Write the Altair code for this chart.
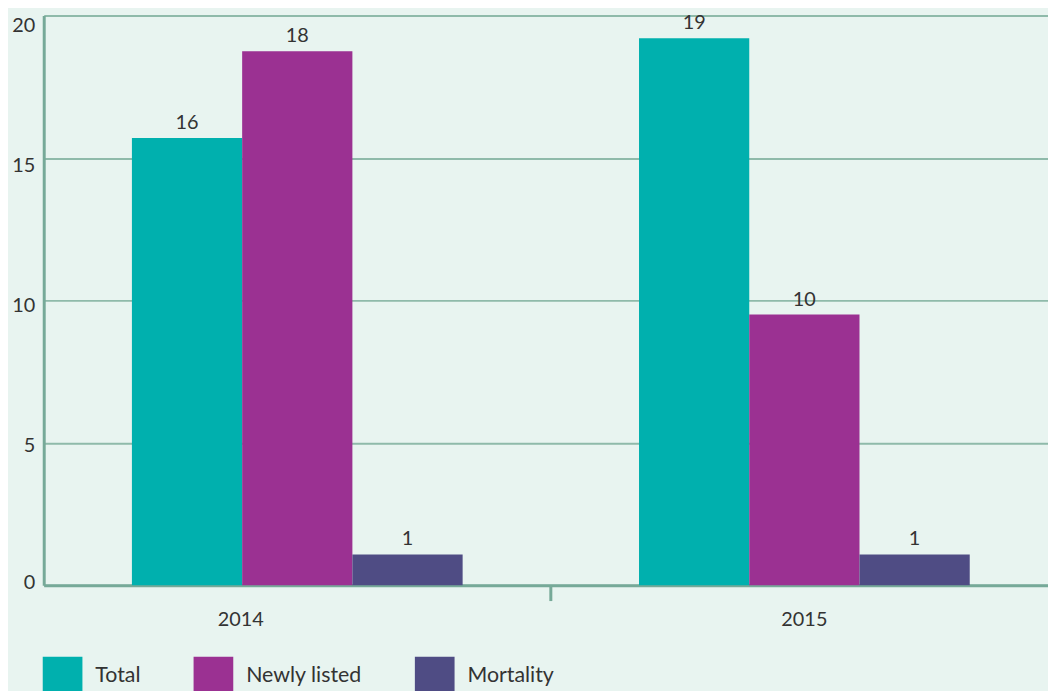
import altair as alt
import pandas as pd

years = ["2014", "2015"]
series = ["Total", "Newly listed", "Mortality"]
colors = ["#00b0ae", "#9b3192", "#4f4c84"]

total = [15.7, 19.2]
newly = [18.75, 9.5]
mortality = [1.08, 1.08]

total_labels = ["16", "19"]
newly_labels = ["18", "10"]
mortality_labels = ["1", "1"]

rows = []
for i, yr in enumerate(years):
    rows.append({"year": yr, "series": series[0], "value": total[i], "label": total_labels[i]})
    rows.append({"year": yr, "series": series[1], "value": newly[i], "label": newly_labels[i]})
    rows.append({"year": yr, "series": series[2], "value": mortality[i], "label": mortality_labels[i]})
df = pd.DataFrame(rows)
tick_df = pd.DataFrame({"year": [years[1]]})

FONT = "Lato"
TXT = "#333333"
AXC = "#76a998"

x_axis = alt.Axis(
    title=None, labelAngle=0, ticks=False, tickSize=0, grid=False,
    labelFont=FONT, labelFontSize=20, labelColor=TXT, labelPadding=25,
    domainColor=AXC, domainWidth=3,
    labelOffset={"condition": [{"test": "datum.value == '2014'", "value": -57}], "value": 0},
)
x_scale = alt.Scale(range=[0, 1022], paddingInner=0, paddingOuter=0)

y_axis = alt.Axis(
    title=None, values=[0, 5, 10, 15, 20], ticks=False, tickSize=0,
    labelFont=FONT, labelFontSize=20, labelColor=TXT, labelPadding=9,
    domainColor=AXC, domainWidth=3, gridColor="#8fbaaa", gridWidth=2,
    labelOffset={"condition": [
        {"test": "datum.value == 20", "value": 10},
        {"test": "datum.value == 15", "value": 8},
        {"test": "datum.value == 10", "value": 5},
        {"test": "datum.value == 5", "value": 3},
        {"test": "datum.value == 0", "value": -3},
    ], "value": 0},
)
y_scale = alt.Scale(domain=[0, 20], nice=False)

xo = alt.XOffset("series:N", sort=series, scale=alt.Scale(paddingInner=0, paddingOuter=0.8))

bars = alt.Chart(df).mark_bar().encode(
    x=alt.X("year:N", scale=x_scale, axis=x_axis),
    xOffset=xo,
    y=alt.Y("value:Q", scale=y_scale, axis=y_axis),
    color=alt.Color(
        "series:N", sort=series,
        scale=alt.Scale(domain=series, range=colors),
        legend=alt.Legend(
            title=None, orient="none", legendX=-1, legendY=646,
            direction="horizontal", symbolType="square", symbolSize=1600,
            symbolStrokeWidth=0, labelFont=FONT, labelFontSize=21.5,
            labelColor=TXT, labelOffset=13, columnPadding=53, padding=0,
        ),
    ),
)

texts = alt.Chart(df).mark_text(
    dy=-9, baseline="alphabetic", font=FONT, fontSize=20, color=TXT
).encode(
    x=alt.X("year:N", scale=x_scale, axis=x_axis),
    xOffset=xo,
    y=alt.Y("value:Q", scale=y_scale, axis=y_axis),
    text="label:N",
)

tick = alt.Chart(tick_df).mark_rule(color=AXC, strokeWidth=3).encode(
    x=alt.X("year:N", scale=x_scale, axis=x_axis, bandPosition=0),
    y=alt.value(574),
    y2=alt.value(590),
)

chart = alt.layer(bars, texts, tick).properties(
    width=1010,
    height=574,
    background="#e8f4f0",
    padding={"left": 36, "top": 5, "right": 2, "bottom": 104},
    autosize=alt.AutoSizeParams(type="none"),
).configure_view(stroke=None)

chart.save("out.html", embed_options={"renderer": "svg", "actions": False})
